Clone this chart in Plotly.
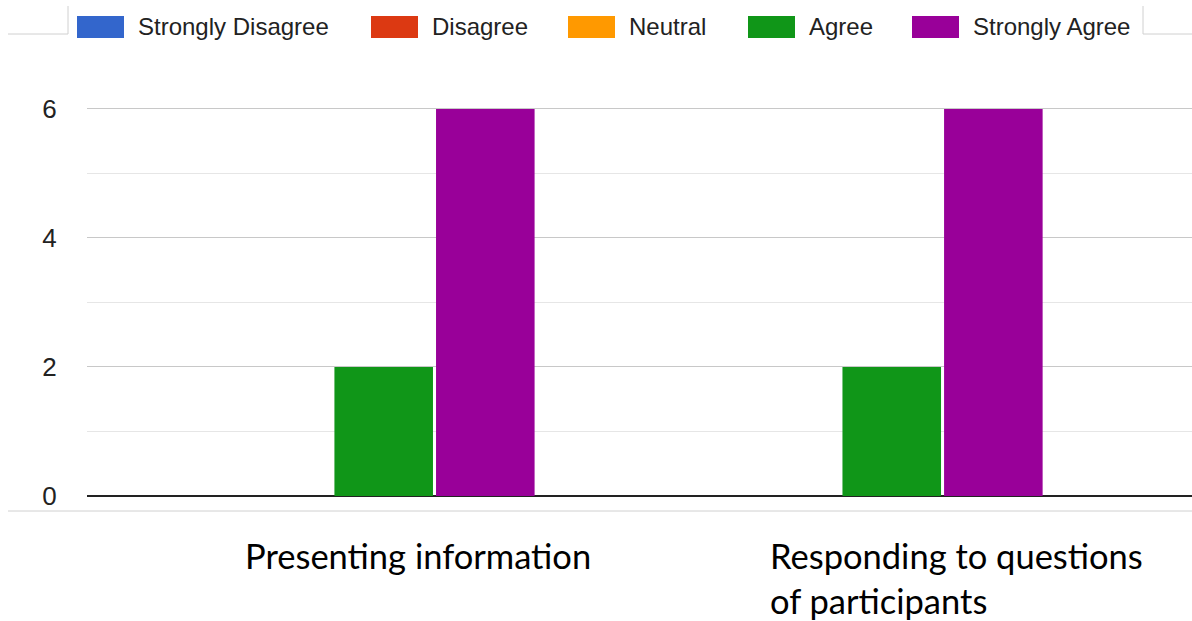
import plotly.graph_objects as go

# Survey categories and response counts
categories = ["Presenting information", "Responding to questions of participants"]
category_labels = ["Presenting information", "Responding to questions<br>of participants"]

responses = ["Strongly Disagree", "Disagree", "Neutral", "Agree", "Strongly Agree"]
strongly_disagree = [0, 0]
disagree = [0, 0]
neutral = [0, 0]
agree = [2, 2]
strongly_agree = [6, 6]
series_values = [strongly_disagree, disagree, neutral, agree, strongly_agree]

colors = ["#3366CC", "#DC3912", "#FF9900", "#109618", "#990099"]

W, H = 1192, 621
M_L, M_R, M_T, M_B = 87, 0, 96, 125
PW = W - M_L - M_R
PH = H - M_T - M_B


def px_x(px):
    return (px - M_L) / PW


def px_y(py):
    return (H - M_B - py) / PH


fig = go.Figure()
for name, vals, col in zip(responses, series_values, colors):
    fig.add_trace(go.Bar(
        x=categories, y=vals, name=name,
        marker=dict(color=col, line=dict(width=0)),
        showlegend=False,
    ))

shapes = []
annotations = []

# Legend row: wide swatches followed by labels
swatch_left = [77, 371, 568, 748, 912]
for name, col, sx in zip(responses, colors, swatch_left):
    shapes.append(dict(type="rect", xref="paper", yref="paper",
                       x0=px_x(sx), x1=px_x(sx + 47), y0=px_y(38), y1=px_y(16),
                       fillcolor=col, line=dict(width=0)))
    annotations.append(dict(text=name, xref="paper", yref="paper",
                            x=px_x(sx + 59), y=px_y(27), xanchor="left", yanchor="middle",
                            showarrow=False,
                            font=dict(family="Liberation Sans, Arial", size=24, color="#222222")))

# Thin frame lines around the legend and below the chart
frame_col = "#d0d0d0"
for (x0, y0, x1, y1) in [(8, 34, 68, 34), (68, 6, 68, 34),
                         (1143, 6, 1143, 34), (1143, 34, 1192, 34),
                         (8, 511, 1192, 511)]:
    shapes.append(dict(type="line", xref="paper", yref="paper",
                       x0=px_x(x0), x1=px_x(x1), y0=px_y(y0), y1=px_y(y1),
                       line=dict(color=frame_col, width=1)))

# Category labels below the axis
label_pos = [(243, 533), (768, 533)]
for text, (lx, ly) in zip(category_labels, label_pos):
    annotations.append(dict(text=text, xref="paper", yref="paper",
                            x=px_x(lx), y=px_y(ly), xanchor="left", yanchor="top",
                            align="left", showarrow=False,
                            font=dict(family="Lato", size=34.5, color="#000000")))

fig.update_layout(
    width=W, height=H,
    margin=dict(l=M_L, r=M_R, t=M_T, b=M_B, pad=0),
    paper_bgcolor="white", plot_bgcolor="white",
    barmode="group", bargap=0.0, bargroupgap=0.03,
    shapes=shapes, annotations=annotations,
    xaxis=dict(type="category", range=[-0.384, 1.791], showticklabels=False,
               showgrid=False, zeroline=False, showline=False, ticks=""),
    yaxis=dict(range=[0, 6.2], dtick=2, tick0=0,
               showgrid=True, gridcolor="#c8c8c8", gridwidth=1,
               minor=dict(dtick=1, showgrid=True, gridcolor="#e6e6e6", gridwidth=1),
               zeroline=True, zerolinecolor="#222222", zerolinewidth=2,
               showline=False, ticks="outside", ticklen=24, tickcolor="rgba(0,0,0,0)",
               tickfont=dict(family="Liberation Sans, Arial", size=26, color="#222222")),
)

fig.write_html("out.html")
